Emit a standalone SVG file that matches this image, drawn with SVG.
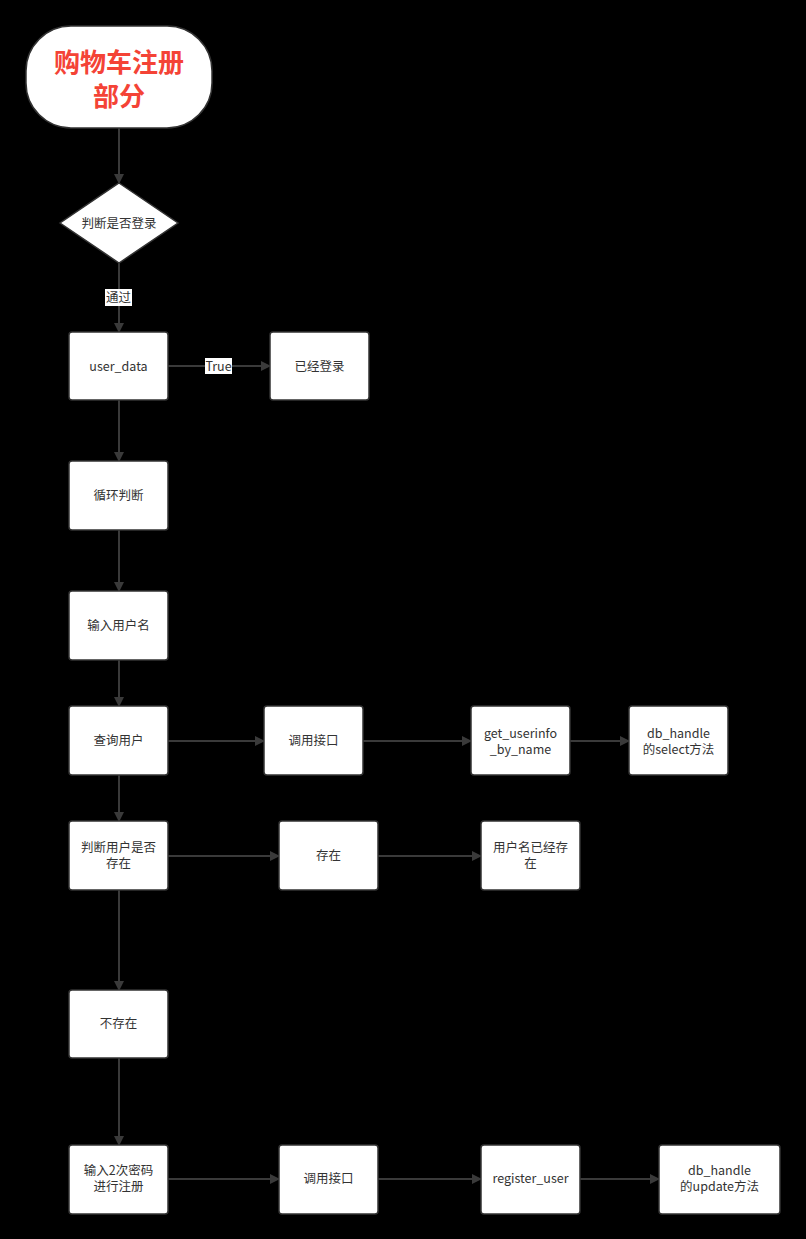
<svg xmlns="http://www.w3.org/2000/svg" width="806" height="1239" viewBox="0 0 806 1239">
<style>
.n{fill:#fff;stroke:#333;stroke-width:1.5}
.t{font-family:"Noto Sans CJK SC","Liberation Sans",sans-serif;font-size:12.5px;fill:#333;text-anchor:middle}
.c{stroke:#3a3a3a;stroke-width:2;fill:none;marker-end:url(#a)}
.lb{font-family:"Noto Sans CJK SC","Liberation Sans",sans-serif;font-size:12.5px;fill:#333;text-anchor:middle}
</style>
<defs><marker id="a" markerWidth="10" markerHeight="10" refX="9" refY="5" orient="auto" markerUnits="userSpaceOnUse"><path d="M0,0L10,5L0,10z" fill="#3a3a3a"/></marker></defs>
<rect width="806" height="1239" fill="#000"/>
<g id="connectors">
<path class="c" d="M119,128V183"/>
<path class="c" d="M119,263V332"/>
<path class="c" d="M168,366H270"/>
<path class="c" d="M119,400V461"/>
<path class="c" d="M119,530V591"/>
<path class="c" d="M119,660V706"/>
<path class="c" d="M168,741H264"/>
<path class="c" d="M363,741H471"/>
<path class="c" d="M570,741H629"/>
<path class="c" d="M119,775V821"/>
<path class="c" d="M168,856H279"/>
<path class="c" d="M378,856H481"/>
<path class="c" d="M119,890V990"/>
<path class="c" d="M119,1058V1145"/>
<path class="c" d="M168,1179H279"/>
<path class="c" d="M378,1179H481"/>
<path class="c" d="M580,1179H659"/>
<rect x="105" y="289" width="27" height="17" fill="#fff"/><text class="lb" x="118.5" y="302">通过</text>
<rect x="205" y="358" width="27" height="16" fill="#fff"/><text class="lb" x="218.5" y="371">True</text>
</g>
<g id="start"><rect class="n" x="26" y="26" width="186" height="102" rx="45"/><text x="119" y="72" font-family="Noto Sans CJK SC,sans-serif" font-size="26" font-weight="bold" fill="#f44336" text-anchor="middle">购物车注册</text><text x="119" y="106" font-family="Noto Sans CJK SC,sans-serif" font-size="26" font-weight="bold" fill="#f44336" text-anchor="middle">部分</text></g>
<g id="d1"><path class="n" d="M119,183L178,223L119,263L60,223z"/><text class="t" x="119" y="228">判断是否登录</text></g>
<g id="n1"><rect class="n" x="69" y="332" width="99" height="68" rx="3"/><text class="t" x="118.5" y="371">user_data</text></g>
<g id="n2"><rect class="n" x="270" y="332" width="99" height="68" rx="3"/><text class="t" x="319.5" y="371">已经登录</text></g>
<g id="n3"><rect class="n" x="69" y="461" width="99" height="69" rx="3"/><text class="t" x="118.5" y="500">循环判断</text></g>
<g id="n4"><rect class="n" x="69" y="591" width="99" height="69" rx="3"/><text class="t" x="118.5" y="630">输入用户名</text></g>
<g id="n5"><rect class="n" x="69" y="706" width="99" height="69" rx="3"/><text class="t" x="118.5" y="745">查询用户</text></g>
<g id="n6"><rect class="n" x="264" y="706" width="99" height="69" rx="3"/><text class="t" x="313.5" y="745">调用接口</text></g>
<g id="n7"><rect class="n" x="471" y="706" width="99" height="69" rx="3"/><text class="t" x="520.5" y="738">get_userinfo</text><text class="t" x="520.5" y="754">_by_name</text></g>
<g id="n8"><rect class="n" x="629" y="706" width="99" height="69" rx="3"/><text class="t" x="678.5" y="738">db_handle</text><text class="t" x="678.5" y="754">的select方法</text></g>
<g id="n9"><rect class="n" x="69" y="821" width="99" height="69" rx="3"/><text class="t" x="118.5" y="852">判断用户是否</text><text class="t" x="118.5" y="868">存在</text></g>
<g id="n10"><rect class="n" x="279" y="821" width="99" height="69" rx="3"/><text class="t" x="328.5" y="860">存在</text></g>
<g id="n11"><rect class="n" x="481" y="821" width="99" height="69" rx="3"/><text class="t" x="530.5" y="852">用户名已经存</text><text class="t" x="530.5" y="868">在</text></g>
<g id="n12"><rect class="n" x="69" y="990" width="99" height="68" rx="3"/><text class="t" x="118.5" y="1028">不存在</text></g>
<g id="n13"><rect class="n" x="69" y="1145" width="99" height="69" rx="3"/><text class="t" x="118.5" y="1175">输入2次密码</text><text class="t" x="118.5" y="1191">进行注册</text></g>
<g id="n14"><rect class="n" x="279" y="1145" width="99" height="69" rx="3"/><text class="t" x="328.5" y="1183">调用接口</text></g>
<g id="n15"><rect class="n" x="481" y="1145" width="99" height="69" rx="3"/><text class="t" x="530.5" y="1183">register_user</text></g>
<g id="n16"><rect class="n" x="659" y="1145" width="121" height="69" rx="3"/><text class="t" x="719.5" y="1175">db_handle</text><text class="t" x="719.5" y="1191">的update方法</text></g>
</svg>
